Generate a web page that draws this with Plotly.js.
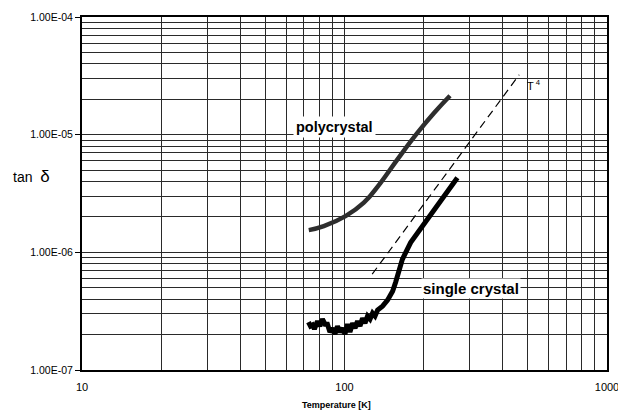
<!DOCTYPE html>
<html>
<head>
<meta charset="utf-8">
<script src="https://cdn.plot.ly/plotly-3.0.1.min.js"></script>
<style>html,body{margin:0;padding:0;background:#fff;}#chart{width:618px;height:414px;}</style>
</head>
<body>
<div id="chart"></div>
<script>
// Polycrystal curve (T [K], tan delta)
const polyT = [73.1, 83.4, 100.9, 118.5, 137.2, 158.9, 189.5, 219.3, 252.3];
const polyTan = [1.545e-6, 1.67e-6, 2.03e-6, 2.64e-6, 3.90e-6, 6.14e-6, 1.034e-5, 1.527e-5, 2.14e-5];

// Single crystal curve (noisy band at low T read as upper/lower excursions)
const singleT = [72.9, 74.2, 75.5, 76.8, 78.9, 80.6, 82.4, 84.3, 86.1, 88.0, 90.0, 92.0, 94.0, 96.1, 98.3, 100.4,
  102.7, 104.9, 107.3, 109.7, 112.1, 114.6, 117.1, 119.7, 122.4, 125.1, 127.9, 130.7, 133.7, 139.6, 145.9, 152.5,
  156.6, 166.1, 178.6, 198.0, 216.2, 239.3, 269.2];
const singleTan = [2.55e-7, 2.36e-7, 2.41e-7, 2.23e-7, 2.60e-7, 2.36e-7, 2.71e-7, 2.45e-7, 2.45e-7, 2.10e-7, 2.27e-7,
  2.02e-7, 2.36e-7, 2.10e-7, 2.27e-7, 2.02e-7, 2.45e-7, 2.10e-7, 2.50e-7, 2.27e-7, 2.60e-7, 2.36e-7, 2.76e-7, 2.50e-7,
  2.87e-7, 2.71e-7, 3.04e-7, 2.87e-7, 3.23e-7, 3.49e-7, 3.92e-7, 4.67e-7, 5.57e-7, 8.72e-7, 1.21e-6, 1.67e-6, 2.17e-6,
  3.00e-6, 4.30e-6];

// T^4 guide line end points
const guideT = [127.5, 462.8];
const guideTan = [6.52e-7, 3.23e-5];

// Tick labels
const xTickVals = [10, 100, 1000];
const xTickText = ['10', '100', '1000'];
const yTickVals = [1e-7, 1e-6, 1e-5, 1e-4];
const yTickText = ['1.00E-07', '1.00E-06', '1.00E-05', '1.00E-04'];

const FONT = '"Liberation Sans", Arial, Helvetica, sans-serif';
const GRID = '#2a2a2a';

const traces = [
  {x: polyT, y: polyTan, mode: 'lines', line: {color: '#2e2e2e', width: 4.5, shape: 'spline', smoothing: 1.3}, hoverinfo: 'skip'},
  {x: singleT, y: singleTan, mode: 'lines', line: {color: '#000', width: 5}, hoverinfo: 'skip'},
  {x: guideT, y: guideTan, mode: 'lines', line: {color: '#000', width: 1.2, dash: '8px,5px'}, hoverinfo: 'skip'}
];

const ann = (x, y, text, size, extra) => Object.assign({
  xref: 'paper', yref: 'paper', x: x, y: y, text: text, showarrow: false,
  xanchor: 'center', yanchor: 'middle', font: {size: size, family: FONT, color: '#000'}
}, extra || {});

const layout = {
  width: 618, height: 414,
  margin: {l: 82, r: 11, t: 17, b: 44},
  paper_bgcolor: '#fff', plot_bgcolor: '#fff',
  showlegend: false,
  font: {family: FONT, color: '#000', size: 11},
  xaxis: {
    type: 'log', range: [1, 3], autorange: false,
    tickmode: 'array', tickvals: xTickVals, ticktext: xTickText,
    ticks: '', ticklabelstandoff: 6, ticklabeloverflow: 'allow',
    tickfont: {size: 11, family: FONT},
    showgrid: true, gridcolor: GRID, gridwidth: 1,
    minor: {dtick: 'D1', showgrid: true, gridcolor: GRID, gridwidth: 1, ticks: ''},
    showline: true, linecolor: '#000', linewidth: 2, mirror: true,
    zeroline: false, automargin: false
  },
  yaxis: {
    type: 'log', range: [-7, -4], autorange: false,
    tickmode: 'array', tickvals: yTickVals, ticktext: yTickText,
    ticks: 'outside', ticklen: 5, tickcolor: '#000', tickwidth: 1,
    tickfont: {size: 10.5, family: FONT},
    showgrid: true, gridcolor: GRID, gridwidth: 1,
    minor: {dtick: 'D1', showgrid: true, gridcolor: GRID, gridwidth: 1, ticks: ''},
    showline: true, linecolor: '#000', linewidth: 2, mirror: true,
    zeroline: false, automargin: false
  },
  annotations: [
    ann(0.48, 0.688, '<b>polycrystal</b>', 14.5, {bgcolor: '#fff', borderpad: 2}),
    ann(0.740, 0.232, '<b>single crystal</b>', 15, {bgcolor: '#fff', borderpad: 1}),
    ann(0.861, 0.807, 'T<sup> 4</sup>', 11),
    ann(-0.097, 0.547, 'tan  <span style="font-size:17px">δ</span>', 14),
    ann(0.484, -0.099, '<b>Temperature [K]</b>', 9)
  ]
};

Plotly.newPlot('chart', traces, layout, {staticPlot: true, displayModeBar: false});
</script>
</body>
</html>
